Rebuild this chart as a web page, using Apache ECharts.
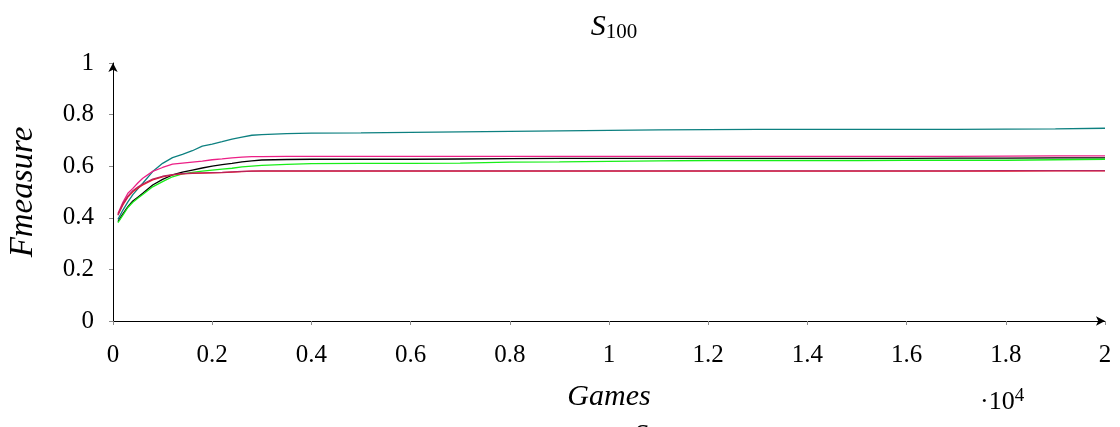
<!DOCTYPE html>
<html>
<head>
<meta charset="utf-8">
<script src="https://cdn.jsdelivr.net/npm/echarts@6/dist/echarts.min.js"></script>
<style>
  html, body { margin: 0; padding: 0; background: #fff; }
  #chart { width: 1120px; height: 427px; }
</style>
</head>
<body>
<div id="chart"></div>
<script>
// Number of games played (x positions of the samples)
const games = [100, 200, 300, 400, 500, 600, 800, 1000, 1200, 1400, 1600, 1800, 2000, 2200, 2400, 2600, 2800, 3000, 3500, 4000,
  5000, 6000, 7000, 8000, 9000, 10000, 11000, 12000, 13000, 14000, 15000, 16000, 17000, 18000, 19000, 20000];

// F-measure per strategy
const tealSeries = [0.394, 0.430, 0.462, 0.490, 0.512, 0.534, 0.579, 0.611, 0.633, 0.646, 0.660, 0.678, 0.686, 0.695, 0.705, 0.713, 0.720, 0.722, 0.726, 0.728,
  0.729, 0.731, 0.733, 0.735, 0.737, 0.739, 0.741, 0.742, 0.743, 0.743, 0.743, 0.743, 0.743, 0.744, 0.745, 0.747];
const pinkSeries = [0.417, 0.460, 0.495, 0.514, 0.535, 0.553, 0.580, 0.595, 0.608, 0.612, 0.616, 0.620, 0.625, 0.628, 0.632, 0.635, 0.637, 0.637, 0.638, 0.638,
  0.638, 0.638, 0.638, 0.638, 0.638, 0.638, 0.638, 0.638, 0.638, 0.638, 0.638, 0.638, 0.638, 0.639, 0.640, 0.640];
const blackSeries = [0.385, 0.415, 0.443, 0.465, 0.480, 0.495, 0.527, 0.549, 0.566, 0.577, 0.585, 0.593, 0.600, 0.606, 0.611, 0.617, 0.621, 0.624, 0.626, 0.627,
  0.627, 0.627, 0.628, 0.629, 0.630, 0.630, 0.630, 0.630, 0.630, 0.630, 0.630, 0.630, 0.631, 0.631, 0.632, 0.632];
const greenSeries = [0.381, 0.410, 0.440, 0.460, 0.476, 0.490, 0.520, 0.540, 0.559, 0.570, 0.576, 0.581, 0.585, 0.589, 0.592, 0.597, 0.600, 0.603, 0.607, 0.610,
  0.611, 0.611, 0.612, 0.616, 0.617, 0.619, 0.621, 0.622, 0.622, 0.622, 0.622, 0.623, 0.623, 0.623, 0.625, 0.627];
const redSeries = [0.413, 0.450, 0.480, 0.501, 0.515, 0.527, 0.547, 0.559, 0.566, 0.570, 0.572, 0.573, 0.574, 0.575, 0.577, 0.579, 0.581, 0.581, 0.581, 0.581,
  0.581, 0.581, 0.581, 0.581, 0.581, 0.581, 0.581, 0.581, 0.581, 0.581, 0.581, 0.581, 0.581, 0.581, 0.582, 0.582];
const purpleSeries = [0.410, 0.455, 0.484, 0.505, 0.519, 0.531, 0.550, 0.561, 0.567, 0.571, 0.573, 0.574, 0.575, 0.576, 0.578, 0.580, 0.581, 0.582, 0.582, 0.582,
  0.582, 0.582, 0.582, 0.582, 0.582, 0.582, 0.582, 0.582, 0.582, 0.582, 0.582, 0.582, 0.582, 0.583, 0.583, 0.583];

const xTicks = ['0', '0.2', '0.4', '0.6', '0.8', '1', '1.2', '1.4', '1.6', '1.8', '2'];
const yTicks = ['0', '0.2', '0.4', '0.6', '0.8', '1'];

const serif = 'Liberation Serif';
const tickGray = '#8c8c8c';

const lines = [
  { name: 'teal', color: '#0d8080', values: tealSeries },
  { name: 'black', color: '#000000', values: blackSeries },
  { name: 'green', color: '#19ee19', values: greenSeries },
  { name: 'pink', color: '#ec1f86', values: pinkSeries },
  { name: 'red', color: '#ee1c24', values: redSeries },
  { name: 'purple', color: '#b8245e', values: purpleSeries }
];

const chart = echarts.init(document.getElementById('chart'), null, { renderer: 'canvas' });

const baseX = {
  type: 'value', min: 0, max: 20000, interval: 2000,
  splitLine: { show: false }
};
const baseY = {
  type: 'value', min: 0, max: 1, interval: 0.2,
  splitLine: { show: false }
};

chart.setOption({
  animation: false,
  backgroundColor: '#ffffff',
  title: {
    text: '{i|S}{s|100}',
    left: 609, top: 6, textAlign: 'center',
    textStyle: {
      fontWeight: 'normal',
      rich: {
        i: { fontFamily: serif, fontStyle: 'italic', fontWeight: 'normal', fontSize: 30, color: '#000' },
        s: { fontFamily: serif, fontWeight: 'normal', fontSize: 21, color: '#000', padding: [11, 0, 0, 0] }
      }
    }
  },
  grid: { left: 113, right: 15, top: 63, bottom: 106, containLabel: false, outerBoundsMode: 'none' },
  xAxis: [
    Object.assign({}, baseX, {
      axisLine: { show: true, lineStyle: { color: '#000', width: 1 }, symbol: ['none', 'arrow'], symbolSize: [7, 9] },
      axisTick: { show: true, inside: false, length: 4, lineStyle: { color: tickGray } },
      axisLabel: {
        margin: 22, fontFamily: serif, fontSize: 25, color: '#000',
        formatter: (v) => xTicks[Math.round(v / 2000)]
      },
      name: 'Games', nameLocation: 'middle', nameGap: 61,
      nameTextStyle: { fontFamily: serif, fontStyle: 'italic', fontSize: 30, color: '#000' }
    }),
    Object.assign({}, baseX, {
      axisLine: { show: false },
      axisTick: { show: true, inside: true, length: 4, lineStyle: { color: tickGray } },
      axisLabel: { show: false }
    })
  ],
  yAxis: [
    Object.assign({}, baseY, {
      axisLine: { show: true, lineStyle: { color: '#000', width: 1 }, symbol: ['none', 'arrow'], symbolSize: [7, 9] },
      axisTick: { show: true, inside: false, length: 4, lineStyle: { color: tickGray } },
      axisLabel: {
        margin: 19, fontFamily: serif, fontSize: 25, color: '#000',
        formatter: (v) => yTicks[Math.round(v / 0.2)]
      },
      name: 'Fmeasure', nameLocation: 'middle', nameGap: 73, nameRotate: 90,
      nameTextStyle: { fontFamily: serif, fontStyle: 'italic', fontSize: 33, color: '#000' }
    }),
    Object.assign({}, baseY, {
      axisLine: { show: false },
      axisTick: { show: true, inside: true, length: 4, lineStyle: { color: tickGray } },
      axisLabel: { show: false }
    })
  ],
  graphic: [
    {
      type: 'text', left: 980, top: 387,
      style: { text: '{d|\u00b710}{e|4}', rich: {
        d: { fontFamily: serif, fontSize: 26, fill: '#000' },
        e: { fontFamily: serif, fontSize: 19, fill: '#000', padding: [0, 0, 12, 0] }
      } }
    },
    {
      type: 'text', left: 634, top: 422,
      style: { text: 'S', fontFamily: serif, fontStyle: 'italic', fontSize: 28, fill: '#000' }
    }
  ],
  series: lines.map((l) => ({
    name: l.name,
    type: 'line',
    xAxisIndex: 0, yAxisIndex: 0,
    showSymbol: false,
    symbol: 'none',
    smooth: false,
    lineStyle: { color: l.color, width: 1.3 },
    data: games.map((g, i) => [g, l.values[i]])
  }))
});
</script>
</body>
</html>
